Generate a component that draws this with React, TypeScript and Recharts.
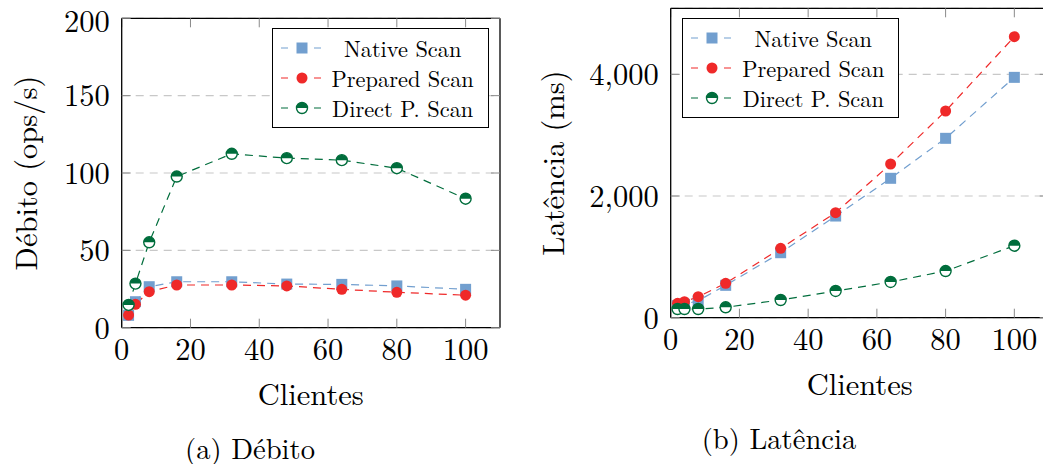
import React from 'react';
import { LineChart, Line, XAxis, YAxis, CartesianGrid } from 'recharts';

const clients = [2, 4, 8, 16, 32, 48, 64, 80, 100];
const throughputNative = [8, 16.8, 26.5, 29.7, 29.7, 28.2, 28, 27, 24.8];
const throughputPrepared = [8.2, 15.1, 23.3, 27.6, 27.6, 27, 24.8, 22.9, 21];
const throughputDirect = [14.7, 28.5, 55.2, 97.7, 112.4, 109.6, 108.3, 103.1, 83.4];
const latencyNative = [200, 220, 280, 532, 1068, 1671, 2291, 2948, 3950];
const latencyPrepared = [236, 263, 345, 565, 1140, 1726, 2526, 3397, 4618];
const latencyDirect = [143, 143, 143, 171, 291, 439, 587, 767, 1183];
const xTicks = [0, 20, 40, 60, 80, 100];
const throughputTicks = [0, 50, 100, 150, 200];
const latencyTicks = [0, 2000, 4000];
const seriesNames = ['Native Scan', 'Prepared Scan', 'Direct P. Scan'];

const BLUE = '#729fcf';
const RED = '#ef2929';
const GREEN = '#006d3c';
const FONT = '"Latin Modern Roman", "Liberation Serif", serif';

const throughputData = clients.map((x, i) => ({
  x,
  native: throughputNative[i],
  prepared: throughputPrepared[i],
  direct: throughputDirect[i],
}));
const latencyData = clients.map((x, i) => ({
  x,
  native: latencyNative[i],
  prepared: latencyPrepared[i],
  direct: latencyDirect[i],
}));

const R = 5.5;

function SquareMark({ cx, cy }: { cx: number; cy: number }) {
  return <rect x={cx - R} y={cy - R} width={2 * R} height={2 * R} fill={BLUE} />;
}
function CircleMark({ cx, cy }: { cx: number; cy: number }) {
  return <circle cx={cx} cy={cy} r={R} fill={RED} />;
}
function HalfMark({ cx, cy }: { cx: number; cy: number }) {
  return (
    <g>
      <circle cx={cx} cy={cy} r={R} fill="#fff" stroke={GREEN} strokeWidth={1.4} />
      <path d={`M ${cx - R} ${cy} A ${R} ${R} 0 0 1 ${cx + R} ${cy} Z`} fill={GREEN} />
    </g>
  );
}

const markers = [SquareMark, CircleMark, HalfMark];
const colors = [BLUE, RED, GREEN];
const keys = ['native', 'prepared', 'direct'];

function makeDot(i: number) {
  const M = markers[i];
  return (props: any) => {
    if (props.cx == null || props.cy == null) return <g key={`e${props.index}`} />;
    return (
      <g key={`d${i}-${props.index}`}>
        <M cx={props.cx} cy={props.cy} />
      </g>
    );
  };
}

function LegendBox({ left, top }: { left: number; top: number }) {
  return (
    <div
      style={{
        position: 'absolute',
        left,
        top,
        width: 217,
        height: 100,
        border: '1.3px solid #000',
        boxSizing: 'border-box',
        background: '#fff',
        fontFamily: FONT,
        fontSize: 22.4,
        color: '#000',
      }}
    >
      {seriesNames.map((name, i) => {
        const M = markers[i];
        return (
          <div
            key={name}
            style={{
              position: 'absolute',
              left: 0,
              top: 4 + i * 30,
              height: 30,
              width: '100%',
              display: 'flex',
              alignItems: 'center',
            }}
          >
            <svg width={40} height={16} style={{ marginLeft: 8, display: 'block' }}>
              <line x1={0} y1={8} x2={40} y2={8} stroke={colors[i]} strokeWidth={1.2} strokeDasharray="7 26 7" />
              <M cx={21} cy={8} />
            </svg>
            <div style={{ flex: 1, textAlign: 'center', paddingRight: 3, whiteSpace: 'nowrap', lineHeight: '30px' }}>
              {name}
            </div>
          </div>
        );
      })}
    </div>
  );
}

const tickStyle = { style: { fontFamily: FONT }, fontSize: 30.5, fill: '#000' };
const tickLineStyle = { stroke: '#8a8a8a', strokeWidth: 1 };
const axisLineStyle = { stroke: '#000', strokeWidth: 1.3 };
const empty = () => '';

function Panel({
  data,
  width,
  yWidth,
  margin,
  yDomain,
  yTicks,
  yFormat,
  yLabel,
  yLabelX,
  xLabelY,
  caption,
  captionX,
  captionY,
}: any) {
  return (
    <LineChart width={width} height={464} data={data} margin={margin}>
      <CartesianGrid vertical={false} horizontal stroke="#c8c8c8" strokeDasharray="8 6" strokeWidth={1.2} />
      <XAxis
        type="number"
        dataKey="x"
        domain={[0, 110]}
        ticks={xTicks}
        allowDataOverflow
        height={60}
        tick={tickStyle}
        tickSize={-9}
        tickMargin={20}
        tickLine={tickLineStyle}
        axisLine={axisLineStyle}
        label={(p: any) => {
          const vb = p.viewBox;
          const cx = vb.x + vb.width / 2;
          return (
            <g>
              <text
                x={cx}
                y={xLabelY}
                textAnchor="middle"
                dominantBaseline="central"
                style={{ fontFamily: FONT }}
                fontSize={30.5}
                fill="#000"
              >
                Clientes
              </text>
              <text
                x={captionX}
                y={captionY}
                textAnchor="middle"
                dominantBaseline="central"
                style={{ fontFamily: FONT }}
                fontSize={28.6}
                fill="#000"
              >
                {caption}
              </text>
            </g>
          );
        }}
      />
      <XAxis
        xAxisId="top"
        orientation="top"
        type="number"
        dataKey="x"
        domain={[0, 110]}
        ticks={xTicks}
        allowDataOverflow
        height={1}
        tickFormatter={empty}
        tickSize={-9}
        tickLine={tickLineStyle}
        axisLine={axisLineStyle}
      />
      <YAxis
        type="number"
        domain={yDomain}
        ticks={yTicks}
        allowDataOverflow
        width={yWidth}
        tick={tickStyle}
        tickSize={-9}
        tickMargin={21}
        tickFormatter={yFormat}
        tickLine={tickLineStyle}
        axisLine={axisLineStyle}
        label={(p: any) => {
          const vb = p.viewBox;
          const cy = vb.y + vb.height / 2;
          return (
            <text
              x={yLabelX}
              y={cy}
              transform={`rotate(-90 ${yLabelX} ${cy})`}
              textAnchor="middle"
              dominantBaseline="central"
              style={{ fontFamily: FONT }}
              fontSize={30.5}
              fill="#000"
            >
              {yLabel}
            </text>
          );
        }}
      />
      <YAxis
        yAxisId="right"
        orientation="right"
        type="number"
        domain={yDomain}
        ticks={yTicks}
        allowDataOverflow
        width={1}
        tickFormatter={empty}
        tickSize={-9}
        tickLine={tickLineStyle}
        axisLine={axisLineStyle}
      />
      {keys.map((k, i) => (
        <Line
          key={k}
          type="linear"
          dataKey={k}
          stroke={colors[i]}
          strokeWidth={1.2}
          strokeDasharray="8 6"
          dot={makeDot(i)}
          activeDot={false}
          isAnimationActive={false}
        />
      ))}
    </LineChart>
  );
}

export default function App() {
  return (
    <div
      style={{
        position: 'absolute',
        left: 0,
        top: 0,
        width: 1043,
        height: 464,
        overflow: 'hidden',
        background: '#fff',
      }}
    >
      <div style={{ position: 'absolute', left: 0, top: 0 }}>
        <Panel
          data={throughputData}
          width={520}
          yWidth={121.7}
          margin={{ top: 17.3, right: 19, bottom: 76.3, left: 0 }}
          yDomain={[0, 200]}
          yTicks={throughputTicks}
          yFormat={(v: number) => String(v)}
          yLabel="Débito (ops/s)"
          yLabelX={24}
          xLabelY={392.7}
          caption="(a) Débito"
          captionX={250}
          captionY={446.7}
        />
      </div>
      <div style={{ position: 'absolute', left: 520, top: 0 }}>
        <Panel
          data={latencyData}
          width={560}
          yWidth={150.7}
          margin={{ top: 7.3, right: 30.3, bottom: 86.3, left: 0 }}
          yDomain={[0, 5085]}
          yTicks={latencyTicks}
          yFormat={(v: number) => v.toLocaleString('en-US')}
          yLabel="Latência (ms)"
          yLabelX={31}
          xLabelY={382.3}
          caption="(b) Latência"
          captionX={259}
          captionY={436.7}
        />
      </div>
      <LegendBox left={271.7} top={28.3} />
      <LegendBox left={682.3} top={18.3} />
    </div>
  );
}
